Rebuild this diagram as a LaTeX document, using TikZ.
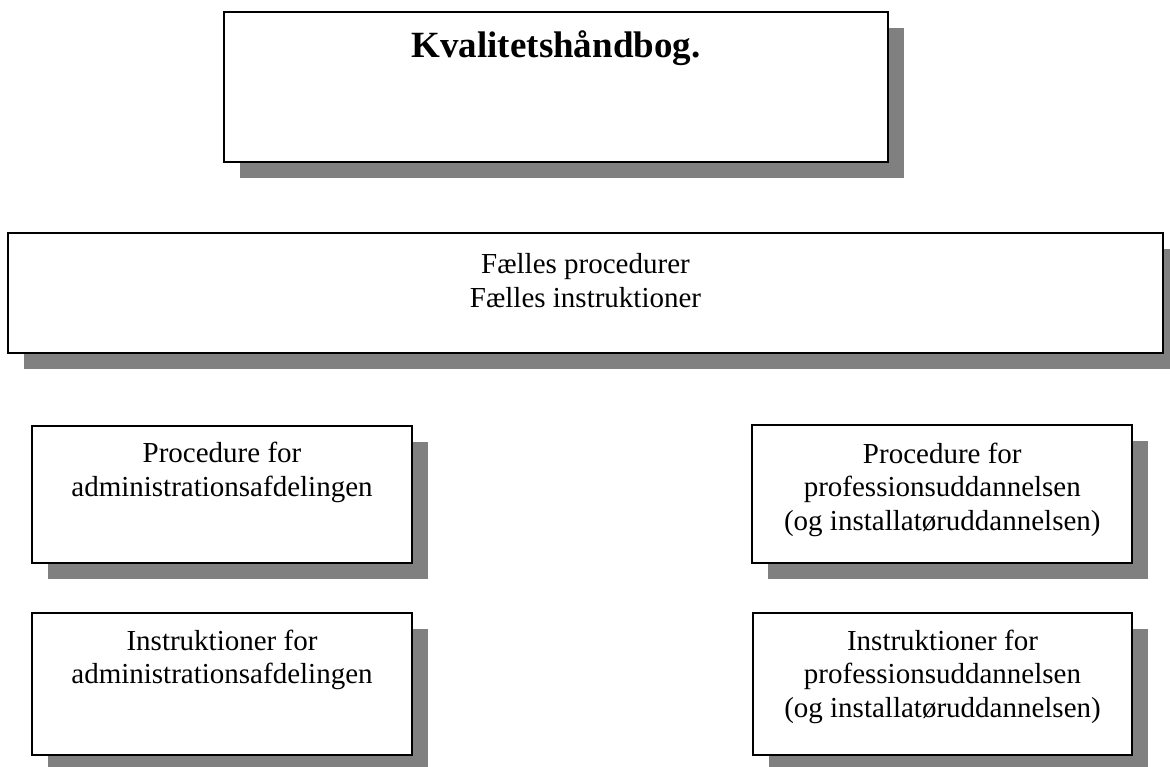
\documentclass[tikz,border=0pt]{standalone}
\usepackage{fontspec}
\setmainfont{Liberation Serif}
\usetikzlibrary{shadows}
\begin{document}
\begin{tikzpicture}[x=1pt,y=1pt,
  box/.style={draw, line width=1.7pt, fill=white, inner sep=0pt,
    drop shadow={shadow xshift=16pt, shadow yshift=-16pt, fill=black!50, opacity=1}},
  txt/.style={anchor=base, inner sep=0pt, font=\fontsize{29}{34}\selectfont},
  ttl/.style={anchor=base, inner sep=0pt, font=\fontsize{37}{44}\selectfont\bfseries}]
\useasboundingbox (0,0) rectangle (1170,-766);
% boxes
\node[box, minimum width=664pt, minimum height=149.4pt] (top) at (556,-87) {};
\node[box, minimum width=1154.4pt, minimum height=120pt] (faelles) at (585.5,-293.3) {};
\node[box, minimum width=379.4pt, minimum height=137.6pt] (pa) at (222,-494.5) {};
\node[box, minimum width=380pt, minimum height=138pt] (pp) at (942.3,-494.2) {};
\node[box, minimum width=379.4pt, minimum height=142.3pt] (ia) at (222,-683.9) {};
\node[box, minimum width=379.6pt, minimum height=142.3pt] (ip) at (942.5,-683.9) {};
% texts
\node[ttl] (t1) at (556,-57.3) {Kvalitetshåndbog.};
\node[txt] (f1) at (585.5,-273.5) {Fælles procedurer};
\node[txt] (f2) at (585.5,-307) {Fælles instruktioner};
\node[txt] (pa1) at (222,-462.3) {Procedure for};
\node[txt] (pa2) at (222,-496.7) {administrationsafdelingen};
\node[txt] (pp1) at (942.3,-463.3) {Procedure for};
\node[txt] (pp2) at (942.3,-496.7) {professionsuddannelsen};
\node[txt] (pp3) at (942.3,-530) {(og installatøruddannelsen)};
\node[txt] (ia1) at (222,-650) {Instruktioner for};
\node[txt] (ia2) at (222,-683.3) {administrationsafdelingen};
\node[txt] (ip1) at (942.5,-650) {Instruktioner for};
\node[txt] (ip2) at (942.5,-683.3) {professionsuddannelsen};
\node[txt] (ip3) at (942.5,-717.3) {(og installatøruddannelsen)};
\end{tikzpicture}
\end{document}
